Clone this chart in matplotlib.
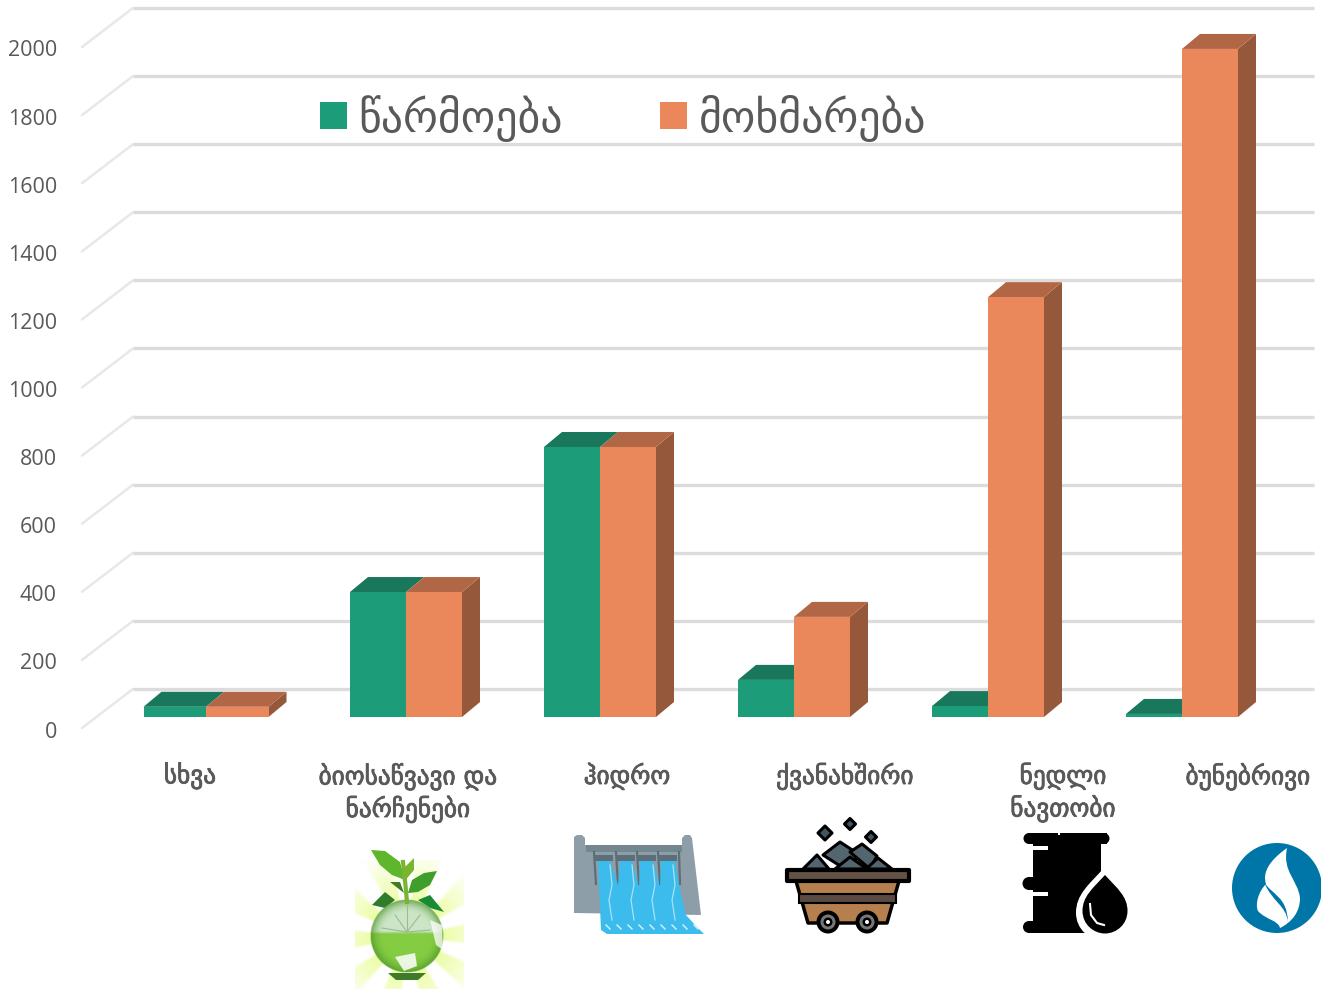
import matplotlib
matplotlib.use("Agg")
import matplotlib.pyplot as plt
import matplotlib.patheffects as pe
import numpy as np
from matplotlib.patches import Polygon, Rectangle, Circle, PathPatch
from matplotlib.path import Path

categories = ["სხვა", "ბიოსაწვავი და\nნარჩენები", "ჰიდრო", "ქვანახშირი", "ნედლი\nნავთობი", "ბუნებრივი"]
production = [30, 367, 793, 109, 32, 9]
consumption = [30, 367, 793, 294, 1233, 1962]
y_ticks = [0, 200, 400, 600, 800, 1000, 1200, 1400, 1600, 1800, 2000]
legend_labels = ["წარმოება", "მოხმარება"]

W, H = 1321, 989
GREEN = "#1d9c7a"
GREEN_TOP = "#19775c"
ORANGE = "#ea885c"
ORANGE_TOP = "#b16746"
ORANGE_SIDE = "#95583b"
GRID = "#dcdcdc"
TEXT = "#595959"
FONT = "DejaVu Sans"

# scale: 194 px per category, 0.3405 px per unit, zero of the bars at y=717
PX_X = 194.0
PX_Y = 0.3405
X0, Y0 = 212.0, 717.0

fig = plt.figure(figsize=(W / 100, H / 100), dpi=100)
ax = fig.add_axes([0, 0, 1, 1])
ax.set_xlim(-X0 / PX_X, (W - X0) / PX_X)
ax.set_ylim((Y0 - H) / PX_Y, Y0 / PX_Y)
ax.axis("off")

# pixel axes for decoration
deco = fig.add_axes([0, 0, 1, 1], zorder=3)
deco.axis("off")
deco.patch.set_alpha(0)

# walls
wall_dx = 51 / PX_X
wall_dy = 39 / PX_Y
wall_left = (82 - X0) / PX_X
wall_right = (1314 - X0) / PX_X
wall_zero = -11 / PX_Y  # front edge of the floor sits below the bar bases
for t in y_ticks:
    y = t + wall_zero
    ax.plot([wall_left, wall_left + wall_dx], [y, y + wall_dy], color="#e8e8e8", lw=1.8, zorder=1,
            solid_capstyle="round")
    ax.plot([wall_left + wall_dx, wall_right], [y + wall_dy, y + wall_dy], color=GRID, lw=2.4, zorder=1,
            solid_capstyle="butt")
    ax.text((57 - X0) / PX_X, y - 4 / PX_Y, str(t), ha="right", va="center", color=TEXT, fontsize=15.5,
            family="Open Sans")

# bars, each one is a front face from ax.bar plus a top and a side
depth_x = 18 / PX_X
depth_y = 15 / PX_Y
x_pos = np.arange(len(categories), dtype=float)
x_pos[0] = (206 - X0) / PX_X
half_w = np.array([62.5, 56, 56, 56, 56, 56]) / PX_X


def top_face(left, right, v, color, z):
    ax.add_patch(Polygon([(left, v), (right, v), (right + depth_x, v + depth_y), (left + depth_x, v + depth_y)],
                         closed=True, fc=color, ec="none", zorder=z))


def side_face(right, v, color, z):
    ax.add_patch(Polygon([(right, 0), (right + depth_x, depth_y), (right + depth_x, v + depth_y), (right, v)],
                         closed=True, fc=color, ec="none", zorder=z))


for i in range(len(categories)):
    z = 2 + i
    top_face(x_pos[i] - half_w[i], x_pos[i], production[i], GREEN_TOP, z)
    ax.bar(x_pos[i] - half_w[i] / 2, production[i], half_w[i], color=GREEN, zorder=z + 0.1)
    side_face(x_pos[i] + half_w[i], consumption[i], ORANGE_SIDE, z + 0.2)
    top_face(x_pos[i], x_pos[i] + half_w[i], consumption[i], ORANGE_TOP, z + 0.2)
    ax.bar(x_pos[i] + half_w[i] / 2, consumption[i], half_w[i], color=ORANGE, zorder=z + 0.3)

# category labels, a thin stroke because the reference font is heavier
label_x = [190, 408, 627, 845, 1063, 1248]
for lx, c in zip(label_x, categories):
    deco.text(lx, 763, c, ha="center", va="top", color=TEXT, fontsize=18.2, family=FONT, linespacing=1.23,
              path_effects=[pe.withStroke(linewidth=0.6, foreground=TEXT)])

# legend
deco.add_patch(Rectangle((320, 102), 27, 27, fc=GREEN, ec="none"))
deco.add_patch(Rectangle((660, 102), 27, 27, fc=ORANGE, ec="none"))
deco.text(358, 119, legend_labels[0], ha="left", va="center", color=TEXT, fontsize=31.6, family=FONT)
deco.text(699, 119, legend_labels[1], ha="left", va="center", color=TEXT, fontsize=31.6, family=FONT)


def poly(points, fc, ec="none", lw=0, z=4, a=1):
    deco.add_patch(Polygon(points, closed=True, fc=fc, ec=ec, lw=lw, zorder=z, alpha=a, joinstyle="round"))


# globe icon
cx, cy = 407, 936
yy, xx = np.mgrid[860:989, 355:464]
ang = np.arctan2(yy - cy, xx - cx)
rad = np.hypot(xx - cx, yy - cy)
rays = np.clip(0.5 + 1.6 * np.cos(ang * 10 + 0.5), 0, 1)
fade = np.clip(1.05 - rad / 85, 0, 1)
glow = np.ones(xx.shape + (3,))
amount = rays * fade
glow[..., 0] = 1 - 0.12 * amount
glow[..., 1] = 1 - 0.01 * amount
glow[..., 2] = 1 - 0.55 * amount
deco.imshow(glow, extent=(355, 464, 989, 860), zorder=3.5, aspect="auto")
gy, gx = np.mgrid[-37:37.5:0.5, -37:37.5:0.5]
gr = np.hypot(gx, gy) / 37
ball = np.zeros(gx.shape + (4,))
upper = np.array([0.80, 0.90, 0.78])
lower_c = np.array([0.52, 0.80, 0.26])
rim_c = np.array([0.30, 0.58, 0.16])
w = np.clip((gy + 5) / 3, 0, 1)[..., None]
edge = np.clip((gr - 0.62) / 0.38, 0, 1)[..., None] ** 2
ball[..., :3] = (upper * (1 - w) + lower_c * w) * (1 - edge * 0.8) + rim_c * edge * 0.8
ball[..., 3] = np.clip((1 - gr) * 40, 0, 1)
deco.imshow(ball, extent=(cx - 37, cx + 37, cy + 37, cy - 37), zorder=4, aspect="auto")
poly([(388, 973), (426, 973), (418, 980), (396, 980)], "#3e7a28", z=3.9)
poly([(395, 957), (415, 953), (417, 966), (404, 971)], "#ffffff", z=4.3, a=0.85)
poly([(430, 920), (442, 925), (443, 950), (436, 945)], "#ffffff", z=4.3, a=0.75)
for ex, ey in [(407, 905), (395, 915), (420, 915), (382, 928), (430, 930)]:
    deco.plot([407, ex], [932, ey], color="#9dbb93", lw=0.8, zorder=4.3)
deco.plot([407, 405, 403], [902, 880, 862], color="#7ab52f", lw=3, zorder=5)
poly([(371, 850), (385, 851), (400, 862), (405, 880), (392, 875), (380, 865)], "#5fb52c", z=5)
poly([(403, 883), (402, 870), (414, 858), (414, 870)], "#7ab52f", z=5)
poly([(408, 893), (412, 880), (424, 873), (437, 871), (430, 885), (418, 892)], "#3f9e2c", z=5)
poly([(404, 893), (390, 882), (400, 882)], "#3c7d24", z=5)
poly([(372, 905), (385, 892), (395, 900), (385, 908)], "#2f7d2a", z=3.9)
poly([(418, 900), (430, 895), (444, 912), (430, 908)], "#1c8a35", z=3.9)

# dam icon
poly([(574, 837), (577, 835), (582, 835), (585, 838), (585, 845), (682, 845), (682, 838), (685, 835), (690, 835),
      (692, 838), (701, 915), (574, 913)], "#8e9ea8")
deco.add_patch(Rectangle((586, 845), 96, 7, fc="#73878f", ec="none", zorder=4.1))
for gate_x in [594, 616, 637, 658]:
    deco.add_patch(Rectangle((gate_x, 855), 19, 6, fc="#5c6e78", ec="none", zorder=4.1))
    deco.plot([gate_x, gate_x + 2], [852, 884], color="#5c6e78", lw=1.6, zorder=4.1)
deco.plot([679, 680], [852, 884], color="#5c6e78", lw=1.6, zorder=4.1)
poly([(598, 861), (610, 861), (618, 885), (620, 861), (632, 861), (639, 888), (640, 861), (653, 861), (660, 888),
      (661, 861), (675, 861), (680, 890), (686, 915), (695, 925), (704, 934), (607, 934), (601, 930)], "#3bbcec", z=4.2)
for wx in [610, 632, 653, 673]:
    deco.plot([wx, wx + 2, wx - 1, wx + 2], [865, 885, 900, 920], color="#a9e2f6", lw=0.9, zorder=4.3)
for wx in range(606, 700, 11):
    deco.plot([wx, wx + 4], [925, 929], color="#d9f3fb", lw=1, zorder=4.3)

# coal cart icon
for pts in [[(803, 869), (817, 855), (829, 869)], [(823, 855), (840, 842), (860, 855), (845, 869)],
            [(850, 852), (862, 844), (877, 856), (870, 869)], [(835, 869), (850, 857), (867, 869)],
            [(866, 869), (878, 858), (892, 869)]]:
    poly(pts, "#53666f", ec="black", lw=2.2, z=4)
for px, py, r in [(825, 833, 7), (850, 824, 5.5), (871, 837, 5.5)]:
    poly([(px - r, py), (px, py - r), (px + r, py), (px, py + r)], "#42565f", ec="black", lw=2.2, z=4)
poly([(796, 881), (899, 881), (887, 923), (808, 923)], "#b5804e", ec="black", lw=2.5, z=4.1)
deco.add_patch(Rectangle((799, 894), 97, 9, fc="#5a4a42", ec="black", lw=1.5, zorder=4.2))
deco.add_patch(Rectangle((787, 870), 122, 11, fc="#655247", ec="black", lw=3, zorder=4.3, joinstyle="round"))
for wx in [828, 867]:
    deco.add_patch(Circle((wx, 922), 11.5, fc="black", ec="none", zorder=4.4))
    deco.add_patch(Circle((wx, 922), 7.5, fc="#777777", ec="none", zorder=4.5))
    deco.add_patch(Circle((wx, 922), 4.5, fc="black", ec="none", zorder=4.6))
    deco.add_patch(Circle((wx, 922), 2, fc="white", ec="none", zorder=4.7))

# oil barrel icon
deco.add_patch(Rectangle((1033, 835), 68, 98, fc="black", ec="none", zorder=4))
for by, bh in [(833, 11), (877, 13), (921, 12)]:
    deco.add_patch(Rectangle((1028, by), 30, bh, fc="black", ec="none", zorder=4.1))
    deco.add_patch(Circle((1029, by + bh / 2), bh / 2, fc="black", ec="none", zorder=4.1))
deco.add_patch(Rectangle((1060, 833), 47, 11, fc="black", ec="none", zorder=4.1))
deco.add_patch(Circle((1104, 838.5), 5.5, fc="black", ec="none", zorder=4.1))
for by in [846, 892]:
    deco.add_patch(Rectangle((1033, by), 15, 4, fc="white", ec="none", zorder=4.2))


def drop(cx0, top, r, fc, z):
    verts = [(cx0, top), (cx0 + r * 0.55, top + r * 0.6), (cx0 + r, top + r * 0.95), (cx0 + r, top + r * 1.6),
             (cx0 + r, top + r * 2.2), (cx0 + r * 0.5, top + r * 2.6), (cx0, top + r * 2.6),
             (cx0 - r * 0.5, top + r * 2.6), (cx0 - r, top + r * 2.2), (cx0 - r, top + r * 1.6),
             (cx0 - r, top + r * 0.95), (cx0 - r * 0.55, top + r * 0.6), (cx0, top)]
    codes = [Path.MOVETO] + [Path.CURVE4] * 12
    deco.add_patch(PathPatch(Path(verts, codes), fc=fc, ec="none", zorder=z))


drop(1104, 868, 28, "white", 4.3)
deco.add_patch(Rectangle((1090, 933), 45, 10, fc="white", ec="none", zorder=4.35))
drop(1105, 875, 22.5, "black", 4.4)
deco.plot([1090, 1091, 1097, 1104], [904, 915, 923, 925], color="white", lw=1.5, zorder=4.5)

# gas icon, runs off the right edge
deco.add_patch(Circle((1277, 888), 45, fc="#0076a8", ec="none", zorder=4))
flame = [(1287, 848), (1270, 860), (1262, 872), (1266, 884), (1258, 892), (1255, 905), (1258, 911),
         (1266, 920), (1278, 920), (1280, 928), (1292, 922), (1300, 912), (1300, 898),
         (1298, 880), (1282, 872), (1287, 848)]
codes = [Path.MOVETO] + [Path.CURVE4] * 15
deco.add_patch(PathPatch(Path(flame, codes), fc="white", ec="none", zorder=4.1))
stripe = [(1264, 882), (1272, 895), (1287, 896), (1288, 922), (1286, 905), (1272, 902), (1264, 882)]
deco.add_patch(PathPatch(Path(stripe, [Path.MOVETO] + [Path.CURVE4] * 6), fc="#0076a8", ec="none", zorder=4.2))

deco.set_xlim(0, W)
deco.set_ylim(H, 0)

fig.savefig("out.png", dpi=100, facecolor="white")
